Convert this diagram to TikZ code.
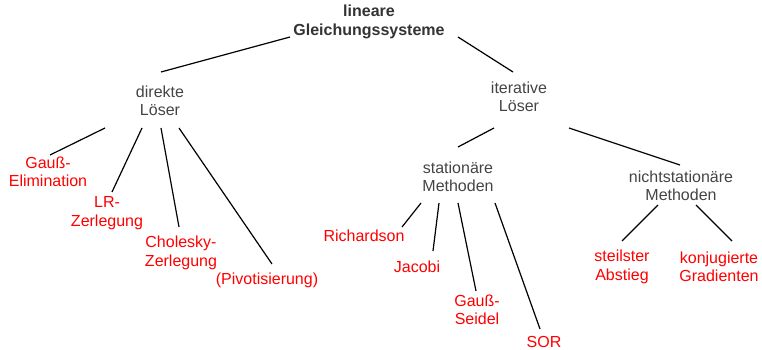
\documentclass[tikz,border=0pt]{standalone}
\usepackage{fontspec}
\setmainfont{Liberation Sans}
\usetikzlibrary{calc}
\definecolor{txtgray}{HTML}{444444}
\definecolor{txtdark}{HTML}{333333}
\definecolor{leafred}{HTML}{FF0000}
\tikzset{
  base/.style={inner sep=0pt, align=center, font=\fontsize{16}{18.5}\selectfont},
  inner/.style={base, text=txtgray},
  rootnode/.style={base, text=txtdark, font=\fontsize{16}{18.5}\selectfont\bfseries},
  leaf/.style={base, text=leafred},
  edge/.style={draw=black, line width=1.2pt}
}
\begin{document}
\begin{tikzpicture}[x=1pt,y=-1pt]
\useasboundingbox (0,0) rectangle (762,350);
\node[rootnode] (root) at (369,22) {lineare\\Gleichungssysteme};
\node[inner] (dir) at (160,101) {direkte\\Löser};
\node[inner] (it) at (519,97) {iterative\\Löser};
\node[leaf] (gauss) at (48,172) {Gauß-\\Elimination};
\node[leaf] (lr) at (107,213) {LR-\\Zerlegung};
\node[leaf] (chol) at (181,253) {Cholesky-\\Zerlegung};
\node[leaf] (piv) at (267,280) {(Pivotisierung)};
\node[inner] (stat) at (458,177) {stationäre\\Methoden};
\node[inner] (ns) at (681,186) {nichtstationäre\\Methoden};
\node[leaf] (rich) at (364,236) {Richardson};
\node[leaf] (jac) at (417,267) {Jacobi};
\node[leaf] (gs) at (477,310) {Gauß-\\Seidel};
\node[leaf] (sor) at (544,342) {SOR};
\node[leaf] (steil) at (622,267) {steilster\\Abstieg};
\node[leaf] (konj) at (719,267) {konjugierte\\Gradienten};

\draw[edge] ($(root)+(-79,15)$) -- ($(dir)+(1,-29)$);
\draw[edge] ($(root)+(89,15)$) -- ($(it)+(-6,-25)$);
\draw[edge] ($(dir)+(-55,27)$) -- ($(gauss)+(2,-17)$);
\draw[edge] ($(dir)+(-18,27)$) -- ($(lr)+(5,-21)$);
\draw[edge] ($(dir)+(1,27)$) -- ($(chol)+(-2,-26)$);
\draw[edge] ($(dir)+(19,27)$) -- ($(piv)+(5,-16)$);
\draw[edge] ($(it)+(-25,31)$) -- ($(stat)+(0,-30)$);
\draw[edge] ($(it)+(50,31)$) -- ($(ns)+(-1,-21)$);
\draw[edge] ($(stat)+(-37,26)$) -- ($(rich)+(38,-9)$);
\draw[edge] ($(stat)+(-19,26)$) -- ($(jac)+(16,-16)$);
\draw[edge] ($(stat)+(0,26)$) -- ($(gs)+(-1,-19)$);
\draw[edge] ($(stat)+(37,26)$) -- ($(sor)+(-4,-13)$);
\draw[edge] ($(ns)+(-23,19)$) -- ($(steil)+(0,-26)$);
\draw[edge] ($(ns)+(15,19)$) -- ($(konj)+(13,-26)$);
\end{tikzpicture}
\end{document}
